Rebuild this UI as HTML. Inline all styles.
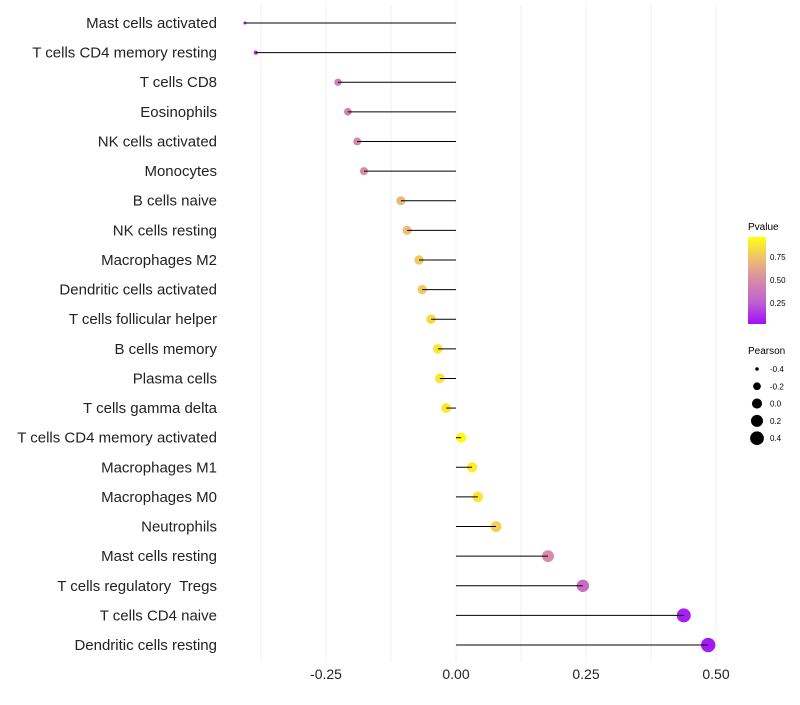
<!DOCTYPE html>
<html><head><meta charset="utf-8"><style>
body{margin:0;background:#fff;font-family:"Liberation Sans",sans-serif;}
text{white-space:pre;}
</style></head><body>
<svg id="chart" width="800" height="700" xmlns="http://www.w3.org/2000/svg" font-family="Liberation Sans, sans-serif">
<defs>
<linearGradient id="pg" x1="0" y1="1" x2="0" y2="0">
<stop offset="0" stop-color="#A010F8"/><stop offset="0.25" stop-color="#C060D0"/>
<stop offset="0.5" stop-color="#D88AA8"/><stop offset="0.75" stop-color="#F0BE70"/>
<stop offset="1" stop-color="#FFFF10"/></linearGradient>
</defs>
<g id="grid"></g><g id="marks"></g><g id="labels"></g>
<g>
<text x="748" y="230" font-size="10">Pvalue</text>
<rect x="748" y="237" width="18" height="87" fill="url(#pg)"/>
<g font-size="8"><text x="770" y="260">0.75</text><text x="770" y="283">0.50</text><text x="770" y="306">0.25</text></g>
</g>
<g id="sizeleg">
<text x="748" y="354" font-size="10">Pearson</text>
</g>
</svg>
<script>
const categories=["Mast cells activated","T cells CD4 memory resting","T cells CD8","Eosinophils","NK cells activated","Monocytes","B cells naive","NK cells resting","Macrophages M2","Dendritic cells activated","T cells follicular helper","B cells memory","Plasma cells","T cells gamma delta","T cells CD4 memory activated","Macrophages M1","Macrophages M0","Neutrophils","Mast cells resting","T cells regulatory  Tregs","T cells CD4 naive","Dendritic cells resting"];
const pearson=[-0.406,-0.385,-0.227,-0.208,-0.190,-0.177,-0.106,-0.094,-0.071,-0.065,-0.048,-0.035,-0.031,-0.019,0.010,0.031,0.042,0.077,0.177,0.244,0.438,0.485];
const pvalue=[0.04,0.08,0.42,0.45,0.47,0.5,0.72,0.74,0.78,0.8,0.86,0.9,0.9,0.92,0.99,0.93,0.9,0.82,0.5,0.33,0.05,0.03];
const xTicks=[-0.25,0,0.25,0.5];
const xTickLabels=["-0.25","0.00","0.25","0.50"];
const sizeLegend=[-0.4,-0.2,0,0.2,0.4];
const sizeLegendLabels=["-0.4","-0.2","0.0","0.2","0.4"];
const NS="http://www.w3.org/2000/svg";
const X=v=>456+v*520, Y=i=>23+i*29.62;
const R=v=>1.5+5.7*Math.pow(Math.max(0,(v+0.406)/0.891),0.6);
function mk(t,a,p){const e=document.createElementNS(NS,t);for(const k in a)e.setAttribute(k,a[k]);p.appendChild(e);return e;}
const stops=[[0,[160,16,248]],[0.25,[192,96,208]],[0.5,[216,138,168]],[0.75,[240,190,112]],[1,[255,255,16]]];
function col(p){for(let i=1;i<stops.length;i++){if(p<=stops[i][0]){const a=stops[i-1],b=stops[i],t=(p-a[0])/(b[0]-a[0]);return "rgb("+a[1].map((c,j)=>Math.round(c+(b[1][j]-c)*t)).join(",")+")";}}return "rgb(255,255,16)";}
const g=document.getElementById('grid'),m=document.getElementById('marks'),l=document.getElementById('labels');
for(let v=-0.375;v<=0.5;v+=0.125){const ln=mk('line',{x1:X(v),x2:X(v),y1:5,y2:662,stroke:'#f0f0f0','stroke-width':1},g);

}
xTicks.forEach((v,i)=>{const t=mk('text',{x:X(v),y:679,'font-size':14,'text-anchor':'middle',fill:'#222'},l);t.textContent=xTickLabels[i];

});
categories.forEach((c,i)=>{
const t=mk('text',{x:217,y:Y(i)+5,'font-size':15,'text-anchor':'end',fill:'#222'},l);t.textContent=c;


const pt=mk('circle',{cx:X(pearson[i]),cy:Y(i),r:R(pearson[i]),fill:col(pvalue[i])},m);


const ln=mk('line',{x1:X(0),x2:X(pearson[i]),y1:Y(i),y2:Y(i),stroke:'#000','stroke-width':1},m);


});
const sl=document.getElementById('sizeleg');
sizeLegend.forEach((v,i)=>{const y=369+i*17.3;
const c=mk('circle',{cx:757,cy:y,r:R(v),fill:'#000'},sl);


const t=mk('text',{x:770,y:y+3,'font-size':8},sl);t.textContent=sizeLegendLabels[i];

});
</script>
</body></html>
